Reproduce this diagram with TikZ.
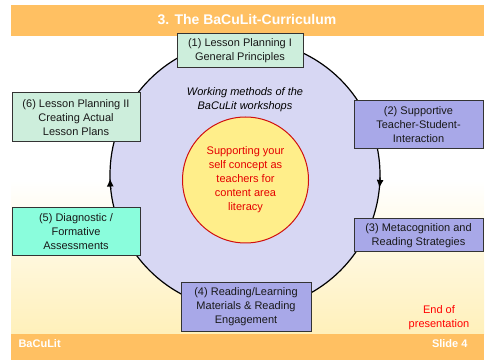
\documentclass[tikz,border=0pt]{standalone}
\usepackage{fontspec}
\setmainfont{Liberation Sans}
\usetikzlibrary{arrows.meta}
\definecolor{barorange}{HTML}{FFC062}
\definecolor{cream}{HTML}{FFF0BA}
\definecolor{ringfill}{HTML}{D7D7F3}
\definecolor{mint}{HTML}{CDEEDC}
\definecolor{aqua}{HTML}{8AFDDC}
\definecolor{lilac}{HTML}{A8A8E8}
\definecolor{sun}{HTML}{FFEE8A}
\definecolor{crimson}{HTML}{D01010}
\tikzset{
	align=center,
	phase/.style={
		draw=black!80,
		line width=1pt,
		rectangle,
		inner sep=0pt,
		text=black!90,
		font=\fontsize{11}{14}\selectfont,
	},
	plan/.style={fill=mint},
	check/.style={fill=aqua},
	method/.style={fill=lilac},
	ring/.style={
		draw,
		circle,
		line width=1.2pt,
		fill=ringfill,
		inner sep=0pt,
		outer sep=0pt,
		minimum size=270pt,
	},
	core/.style={
		draw=crimson,
		circle,
		line width=1pt,
		fill=sun,
		inner sep=0pt,
		minimum size=126pt,
		text=red!90!black,
		font=\fontsize{11}{14}\selectfont,
	},
	flow/.style={
		line width=1.2pt,
		-{Latex[length=8pt,width=7pt]}
	},
	bartext/.style={
		text=white,
		font=\bfseries\fontsize{11}{13}\selectfont,
	},
}

\begin{document}
\begin{tikzpicture}[x=1pt,y=1pt]
	\useasboundingbox (0,0) rectangle (486,361);

	% slide background
	\fill[white] (11,180) rectangle (484,325);
	\shade[top color=white,bottom color=cream] (11,27) rectangle (484,181);
	\fill[barorange] (11,325) rectangle (484,356);
	\fill[barorange] (11,1) rectangle (484,27);

	\node[bartext,font=\bfseries\fontsize{14}{16}\selectfont] (title) at (247,341) {3. The BaCuLit-Curriculum};
	\node[bartext,anchor=west] 	(brand) at (15,17) {BaCuLit};
	\node[bartext,anchor=east] 	(slide) at (471,17) {Slide 4};

	% cycle
	\node[ring] 		(cycle) at (245,186) {};
	\draw[flow] 		(cycle.-1) arc[start angle=-1,end angle=-5.5,radius=135pt];
	\draw[flow] 		(cycle.186) arc[start angle=186,end angle=181.5,radius=135pt];

	\node[font=\itshape\fontsize{11}{14}\selectfont] (methods) at (245,261) {Working methods of the\\BaCuLit workshops};
	\node[core] 		(self) at (245.5,181) {Supporting your\\self concept as\\teachers for\\content area\\literacy};

	\node[phase,plan,minimum width=126,minimum height=34] 	(general) at (240,310) {(1) Lesson Planning I\\General Principles};
	\node[phase,method,minimum width=129,minimum height=48] 	(support) at (418.5,236) {(2) Supportive\\Teacher-Student-\\Interaction};
	\node[phase,method,minimum width=129,minimum height=33] 	(meta) at (418.5,125.5) {(3) Metacognition and\\Reading Strategies};
	\node[phase,method,minimum width=130,minimum height=49] 	(reading) at (246,54.5) {(4) Reading/Learning\\Materials \& Reading\\Engagement};
	\node[phase,check,minimum width=128,minimum height=48] 	(diag) at (76,129) {(5) Diagnostic /\\Formative\\Assessments};
	\node[phase,plan,minimum width=128,minimum height=49] 	(actual) at (76,243.5) {(6) Lesson Planning II\\Creating Actual\\Lesson Plans};

	\node[text=red,font=\fontsize{11}{14}\selectfont] (end) at (439,43) {End of\\presentation};
\end{tikzpicture}
\end{document}
